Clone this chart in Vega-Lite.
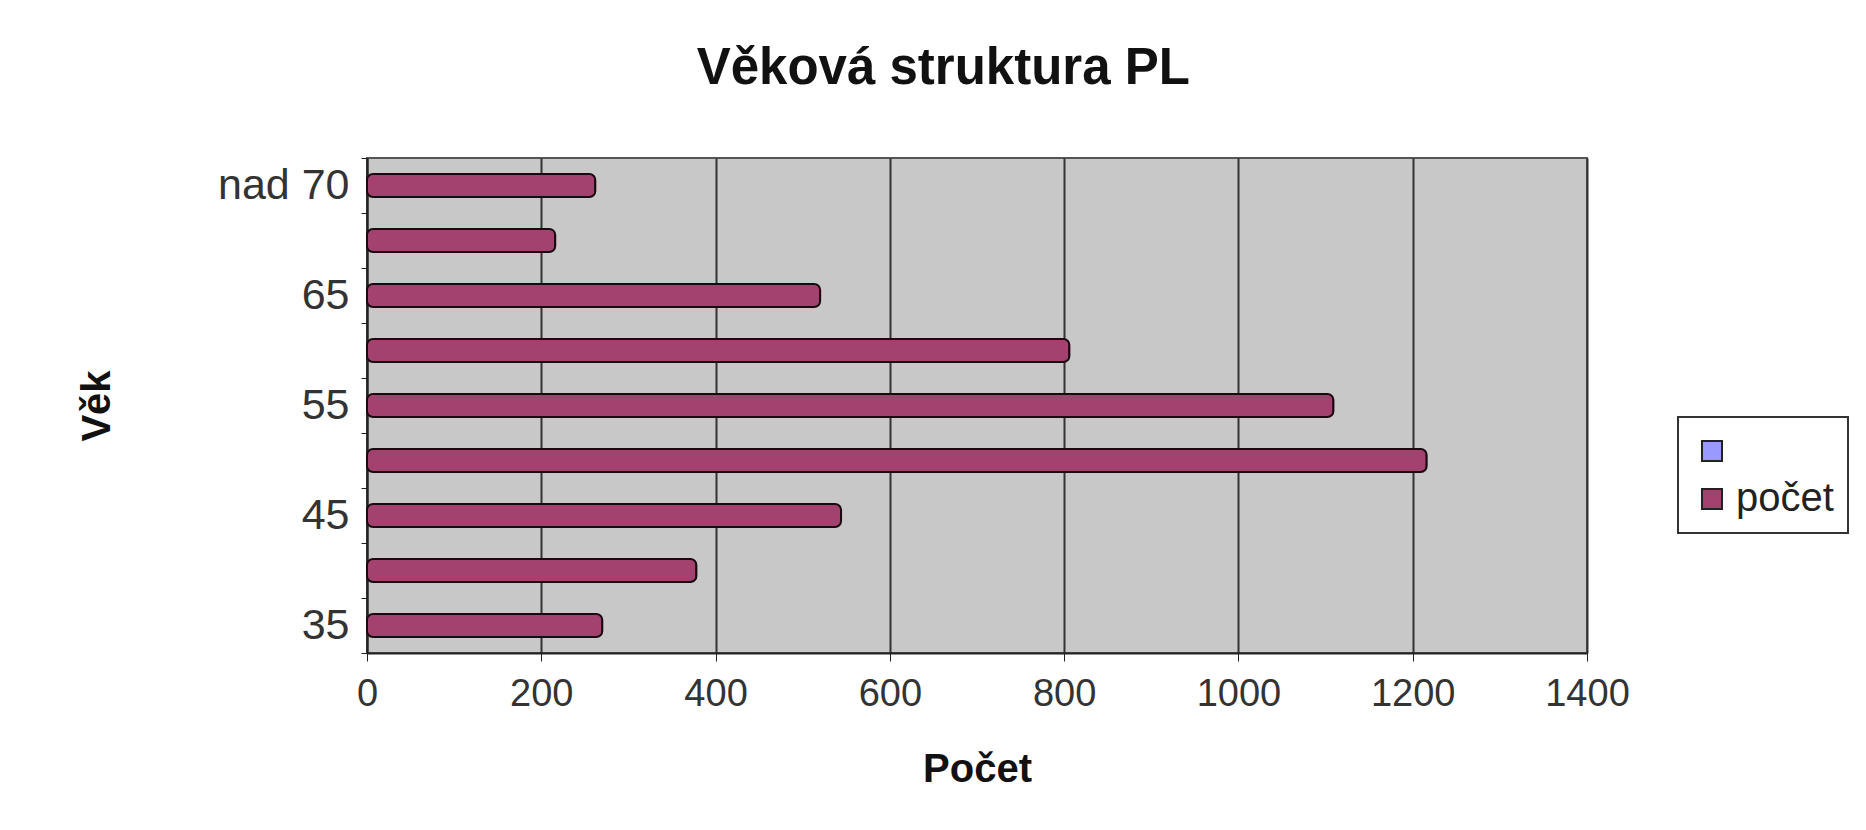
{
  "$schema": "https://vega.github.io/schema/vega-lite/v6.json",
  "autosize": {"type": "none"},
  "width": 1220,
  "height": 495,
  "padding": {"left": 367, "top": 158, "right": 279, "bottom": 177},
  "background": "white",
  "title": {
    "text": "Věková struktura PL",
    "font": "Liberation Sans",
    "fontSize": 51,
    "fontWeight": "bold",
    "color": "#111111",
    "anchor": "middle",
    "frame": "bounds",
    "offset": 42,
    "dx": -20,
    "limit": 1200
  },
  "data": {
    "values": [
      {"vek": "35", "pocet": 270, "serie": "počet"},
      {"vek": "40", "pocet": 378, "serie": "počet"},
      {"vek": "45", "pocet": 544, "serie": "počet"},
      {"vek": "50", "pocet": 1216, "serie": "počet"},
      {"vek": "55", "pocet": 1109, "serie": "počet"},
      {"vek": "60", "pocet": 806, "serie": "počet"},
      {"vek": "65", "pocet": 520, "serie": "počet"},
      {"vek": "70", "pocet": 216, "serie": "počet"},
      {"vek": "nad 70", "pocet": 262, "serie": "počet"}
    ]
  },
  "mark": {"type": "bar", "stroke": "#1a0a10", "strokeWidth": 2, "cornerRadius": 6, "height": 23},
  "encoding": {
    "y": {
      "field": "vek",
      "type": "nominal",
      "sort": ["nad 70", "70", "65", "60", "55", "50", "45", "40", "35"],
      "scale": {"paddingInner": 0, "paddingOuter": 0},
      "axis": {
        "title": "Věk",
        "titleFont": "Liberation Sans",
        "titleFontSize": 40,
        "titleFontWeight": "bold",
        "titleColor": "#111111",
        "titlePadding": 100,
        "labelExpr": "indexof(['35','45','55','65','nad 70'], datum.value) >= 0 ? datum.value : ''",
        "labelFont": "Liberation Sans",
        "labelFontSize": 43,
        "labelColor": "#333333",
        "labelPadding": 12,
        "tickBand": "extent",
        "tickColor": "#222222",
        "tickSize": 6,
        "domainColor": "#222222",
        "domainWidth": 2
      }
    },
    "x": {
      "field": "pocet",
      "type": "quantitative",
      "scale": {"domain": [0, 1400], "nice": false},
      "axis": {
        "title": "Počet",
        "titleFont": "Liberation Sans",
        "titleFontSize": 40,
        "titleFontWeight": "bold",
        "titleColor": "#111111",
        "titlePadding": 36,
        "values": [0, 200, 400, 600, 800, 1000, 1200, 1400],
        "format": "d",
        "labelFlush": false,
        "labelFont": "Liberation Sans",
        "labelFontSize": 38,
        "labelColor": "#333333",
        "labelPadding": 14,
        "tickColor": "#222222",
        "tickSize": 8,
        "domainColor": "#222222",
        "domainWidth": 2,
        "grid": true,
        "gridColor": "#333333",
        "gridWidth": 2
      }
    },
    "color": {
      "field": "serie",
      "type": "nominal",
      "scale": {"domain": [" ", "počet"], "range": ["#9999FF", "#A4426F"]},
      "legend": {
        "title": null,
        "orient": "none",
        "legendX": 1311,
        "legendY": 259,
        "symbolType": "square",
        "symbolSize": 400,
        "symbolStrokeColor": "#222222",
        "symbolStrokeWidth": 2,
        "labelFont": "Liberation Sans",
        "labelFontSize": 40,
        "labelColor": "#222222",
        "rowPadding": 8,
        "padding": 14,
        "strokeColor": "#333333",
        "fillColor": "white",
        "labelLimit": 300
      }
    }
  },
  "config": {
    "view": {"fill": "#C8C8C8", "stroke": "#555555", "strokeWidth": 2},
    "legend": {"strokeWidth": 2}
  }
}
